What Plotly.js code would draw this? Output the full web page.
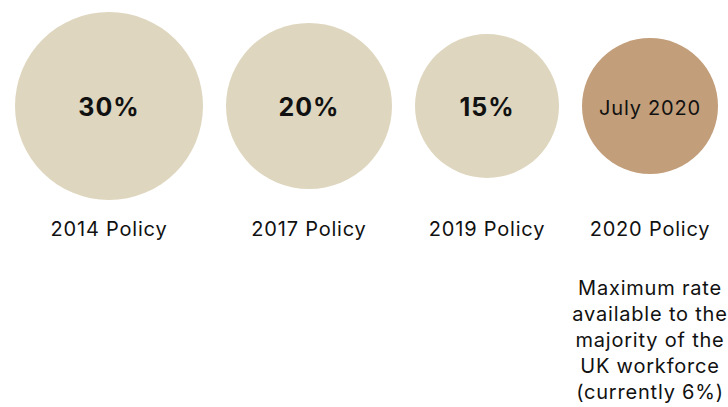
<!DOCTYPE html>
<html>
<head>
<meta charset="utf-8">
<script src="https://cdn.plot.ly/plotly-3.0.1.min.js"></script>
<style>
  html, body { margin: 0; padding: 0; background: #fff; }
  #chart { width: 728px; height: 407px; }
  #chart .textpoint text { letter-spacing: 0.04em; }
</style>
</head>
<body>
<div id="chart"></div>
<script>
// ---- data ----
const policies = ['2014 Policy', '2017 Policy', '2019 Policy', '2020 Policy'];
const maxRates = [30, 20, 15, 6];
const circleLabels = ['30%', '20%', '15%', 'July 2020'];
const noteLines = ['Maximum rate', 'available to the', 'majority of the', 'UK workforce', '(currently 6%)'];

// ---- styles ----
const circleDiameters = [188, 166, 144, 136];
const circleColors = ['#ded6be', '#ded6be', '#ded6be', '#c29e7a'];
const boldLabel = [true, true, true, false];
const FONT = 'Inter, "Noto Sans", Roboto, sans-serif';
const leftPad = 15, gap = 23, circleY = 106, circleTextY = 110, labelY = 231, noteY = 342;

// compute packed centres (1 axis unit = 1 px)
const centres = [];
let edge = leftPad;
circleDiameters.forEach((d, i) => {
  centres.push(edge + d / 2);
  edge += d + gap;
});

const circleText = circleLabels.map((t, i) => boldLabel[i] ? '<b>' + t + '</b>' : t);
const circleFontSize = boldLabel.map(b => b ? 25 : 20);

const traces = [
  {
    type: 'scatter', mode: 'markers',
    x: centres, y: policies.map(() => circleY),
    marker: { size: circleDiameters, color: circleColors, line: { width: 0 }, opacity: 1 },
    cliponaxis: false, hoverinfo: 'skip'
  },
  {
    type: 'scatter', mode: 'text',
    x: centres, y: policies.map(() => circleTextY),
    text: circleText, textposition: 'middle center',
    textfont: { family: FONT, size: circleFontSize, color: '#111' },
    cliponaxis: false, hoverinfo: 'skip'
  },
  {
    type: 'scatter', mode: 'text',
    x: centres, y: policies.map(() => labelY),
    text: policies, textposition: 'middle center',
    textfont: { family: FONT, size: 20, color: '#111' },
    cliponaxis: false, hoverinfo: 'skip'
  },
  {
    type: 'scatter', mode: 'text',
    x: [centres[3]], y: [noteY],
    text: [noteLines.join('<br>')], textposition: 'middle center',
    textfont: { family: FONT, size: 20, color: '#111' },
    cliponaxis: false, hoverinfo: 'skip'
  }
];

const layout = {
  width: 728, height: 407,
  margin: { l: 0, r: 0, t: 0, b: 0 },
  paper_bgcolor: '#fff', plot_bgcolor: '#fff',
  showlegend: false, hovermode: false,
  xaxis: { range: [0, 728], visible: false, fixedrange: true },
  yaxis: { range: [407, 0], visible: false, fixedrange: true }
};

Plotly.newPlot('chart', traces, layout, { displayModeBar: false, staticPlot: true });
</script>
</body>
</html>
